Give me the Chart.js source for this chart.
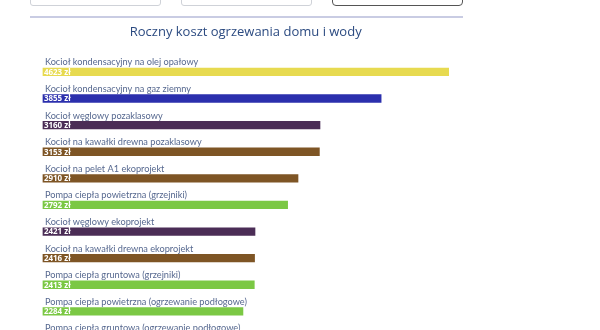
<!DOCTYPE html>
<html lang="pl">
<head>
<meta charset="UTF-8">
<title>Roczny koszt ogrzewania domu i wody</title>
<style>
    html, body {
        margin: 0;
        padding: 0;
        width: 600px;
        height: 330px;
        overflow: hidden;
        background: #fff;
        font-family: "Open Sans", sans-serif;
    }
    .box {
        position: absolute;
        top: -26px;
        height: 32px;
        width: 131px;
        border: 1px solid #cfd2d8;
        border-radius: 3px;
        box-sizing: border-box;
        background: #fff;
    }
    .box.select {
        border: 1px solid #555;
        border-radius: 4px;
    }
    .sep {
        position: absolute;
        left: 30px;
        top: 16px;
        width: 433px;
        height: 2px;
        background: #c9cce3;
    }
    #chart-wrap {
        position: absolute;
        left: 30px;
        top: 20px;
        width: 433px;
        height: 340px;
    }
</style>
</head>
<body>
    <div class="box" style="left:30px"></div>
    <div class="box" style="left:181px"></div>
    <div class="box select" style="left:332px"></div>
    <div class="sep"></div>
    <div id="chart-wrap">
        <canvas id="costChart"></canvas>
    </div>

    <script src="https://cdn.jsdelivr.net/npm/chart.js"></script>
    <script>
        const categories = [
            'Kocioł kondensacyjny na olej opałowy',
            'Kocioł kondensacyjny na gaz ziemny',
            'Kocioł węglowy pozaklasowy',
            'Kocioł na kawałki drewna pozaklasowy',
            'Kocioł na pelet A1 ekoprojekt',
            'Pompa ciepła powietrzna (grzejniki)',
            'Kocioł węglowy ekoprojekt',
            'Kocioł na kawałki drewna ekoprojekt',
            'Pompa ciepła gruntowa (grzejniki)',
            'Pompa ciepła powietrzna (ogrzewanie podłogowe)',
            'Pompa ciepła gruntowa (ogrzewanie podłogowe)'
        ];
        const costs = [4623, 3855, 3160, 3153, 2910, 2792, 2421, 2416, 2413, 2284, 2150];
        const barColors = [
            '#e7da50', '#2b2fad', '#4b2d56', '#7e5525', '#7e5525', '#7bc844',
            '#4b2d56', '#7e5525', '#7bc844', '#7bc844', '#7bc844'
        ];
        const unit = 'zł';

        // category name above each bar, value inside it
        const barLabels = {
            id: 'barLabels',
            afterDatasetsDraw(chart) {
                const ctx = chart.ctx;
                const left = chart.chartArea.left;
                const meta = chart.getDatasetMeta(0);
                ctx.save();
                ctx.textAlign = 'left';
                ctx.textBaseline = 'middle';
                meta.data.forEach((bar, i) => {
                    ctx.fillStyle = '#56688f';
                    ctx.font = '9.2px Lato, sans-serif';
                    ctx.fillText(categories[i], left + 2.5, bar.y - 9.5);
                    ctx.fillStyle = '#ffffff';
                    ctx.font = 'bold 8px "Open Sans", sans-serif';
                    ctx.fillText(costs[i] + ' ' + unit, left + 1.5, bar.y + 0.5);
                });
                ctx.restore();
            }
        };

        new Chart(document.getElementById('costChart'), {
            type: 'bar',
            data: {
                labels: categories,
                datasets: [{
                    data: costs,
                    backgroundColor: barColors,
                    borderWidth: 0,
                    categoryPercentage: 1,
                    barPercentage: 0.313
                }]
            },
            options: {
                indexAxis: 'y',
                responsive: true,
                maintainAspectRatio: false,
                animation: false,
                layout: {
                    padding: { left: 12.4, right: 14, top: 0, bottom: 8.7 }
                },
                scales: {
                    x: { display: false, min: 0, max: 4623 },
                    y: { display: false }
                },
                plugins: {
                    legend: { display: false },
                    tooltip: { enabled: false },
                    title: {
                        display: true,
                        text: 'Roczny koszt ogrzewania domu i wody',
                        color: '#2b4a80',
                        font: { family: '"Open Sans", sans-serif', size: 13, weight: 'normal' },
                        padding: { top: 4, bottom: 19 }
                    }
                }
            },
            plugins: [barLabels]
        });
    </script>
</body>
</html>
